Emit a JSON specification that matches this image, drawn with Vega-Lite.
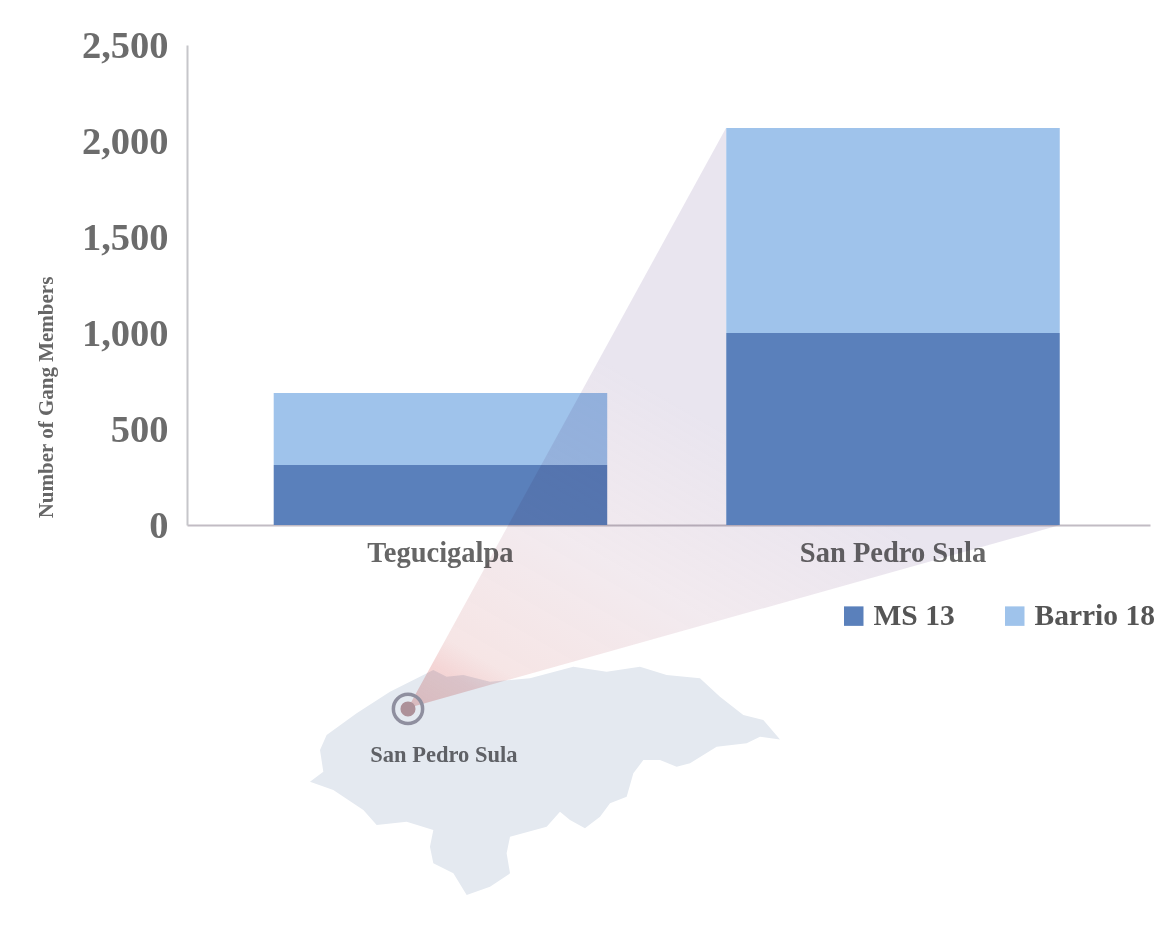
{"$schema":"https://vega.github.io/schema/vega-lite/v6.json","width":963,"height":480,"autosize":"none","padding":{"left":187,"top":45,"right":10,"bottom":405},"background":"white","config":{"view":{"stroke":null},"font":"Liberation Serif"},"layer":[
{"data":{"values":[{"type":"Feature","properties":{"name":"Honduras"},"geometry":{"type":"Polygon","coordinates":[[[-89.4,14.879],[-89.215,15.018],[-89.261,15.319],[-89.169,15.528],[-88.752,15.829],[-88.289,16.129],[-87.687,16.43],[-87.502,16.338],[-87.271,16.361],[-86.9,16.268],[-86.345,16.315],[-85.743,16.477],[-85.28,16.407],[-84.817,16.477],[-84.447,16.361],[-83.984,16.315],[-83.706,16.06],[-83.382,15.805],[-83.104,15.736],[-82.872,15.467],[-83.15,15.504],[-83.335,15.412],[-83.752,15.366],[-84.122,15.134],[-84.308,15.088],[-84.539,15.18],[-84.77,15.18],[-84.909,14.995],[-85.002,14.671],[-85.233,14.579],[-85.372,14.393],[-85.581,14.231],[-85.789,14.347],[-85.928,14.463],[-86.113,14.254],[-86.622,14.116],[-86.669,13.884],[-86.622,13.606],[-86.9,13.421],[-87.224,13.305],[-87.409,13.606],[-87.687,13.745],[-87.734,13.977],[-87.687,14.208],[-88.058,14.324],[-88.474,14.278],[-88.659,14.486],[-89.076,14.764],[-89.4,14.879]]]}}]},
"projection":{"type":"identity","reflectY":true,"scale":72,"translate":[6559.8,1808]},
"mark":{"type":"geoshape","clip":false,"fill":"#e4e9f0","stroke":null},"encoding":{}},
{"data":{"values":[{"city":"Tegucigalpa","gang":"MS 13","members":312,"rank":1},{"city":"Tegucigalpa","gang":"Barrio 18","members":376,"rank":2},{"city":"San Pedro Sula","gang":"MS 13","members":1000,"rank":1},{"city":"San Pedro Sula","gang":"Barrio 18","members":1068,"rank":2}]},
"mark":{"type":"bar"},
"encoding":{
"x":{"field":"city","type":"nominal","sort":["Tegucigalpa","San Pedro Sula"],"scale":{"paddingInner":0.263,"paddingOuter":0.1955,"align":0.49},"axis":{"title":null,"labelAngle":0,"labelLimit":400,"labelFont":"Liberation Serif","labelFontWeight":"bold","labelFontSize":28.5,"labelColor":"#666666","labelPadding":13,"ticks":false,"domainColor":"#c2bcc4","domainWidth":2}},
"y":{"field":"members","type":"quantitative","stack":"zero","scale":{"domain":[0,2500],"nice":false},"axis":{"title":"Number of Gang Members","titleFont":"Liberation Serif","titleFontSize":21,"titleFontWeight":"bold","titleColor":"#666666","titleX":-131,"titleY":352,"values":[0,500,1000,1500,2000,2500],"format":",.0f","grid":false,"ticks":false,"labelFont":"Liberation Serif","labelFontWeight":"bold","labelFontSize":38.5,"labelColor":"#6c6c6c","labelPadding":19,"domainColor":"#c6c6ca","domainWidth":2}},
"order":{"field":"rank","type":"quantitative"},
"color":{"field":"gang","type":"nominal","sort":["MS 13","Barrio 18"],"scale":{"domain":["MS 13","Barrio 18"],"range":["#5a80bb","#9fc3eb"]},"legend":{"title":null,"orient":"none","legendX":652,"legendY":556,"direction":"horizontal","symbolType":"square","symbolSize":380,"symbolStrokeWidth":0,"labelFont":"Liberation Serif","labelFontWeight":"bold","labelFontSize":29.5,"labelColor":"#555555","labelOffset":5,"columnPadding":45}}}},
{"data":{"values":[{"type":"Feature","properties":{"name":"funnel"},"geometry":{"type":"Polygon","coordinates":[[[-88.039,15.903],[-83.622,23.958],[-83.622,18.444],[-78.983,18.444],[-88.039,15.903]]]}}]},
"projection":{"type":"identity","reflectY":true,"scale":72,"translate":[6559.8,1808]},
"mark":{"type":"geoshape","clip":false,"stroke":null,"blend":"multiply","fill":{"gradient":"linear","x1":0,"y1":1,"x2":0.45,"y2":0.3,"stops":[{"offset":0,"color":"rgba(225,130,125,0.42)"},{"offset":0.1,"color":"rgba(225,140,140,0.36)"},{"offset":0.16,"color":"rgba(225,170,170,0.3)"},{"offset":0.45,"color":"rgba(215,190,205,0.32)"},{"offset":0.8,"color":"rgba(200,190,215,0.4)"},{"offset":1,"color":"rgba(200,190,215,0.4)"}]}},"encoding":{}},
{"data":{"values":[{"name":"San Pedro Sula","lon":-88.039,"lat":15.89}]},
"projection":{"type":"identity","reflectY":true,"scale":72,"translate":[6559.8,1808]},
"mark":{"type":"circle","clip":false,"size":227,"color":"#ad9199","opacity":1},"encoding":{"longitude":{"field":"lon","type":"quantitative"},"latitude":{"field":"lat","type":"quantitative"}}},
{"data":{"values":[{"name":"San Pedro Sula","lon":-88.039,"lat":15.89}]},
"projection":{"type":"identity","reflectY":true,"scale":72,"translate":[6559.8,1808]},
"mark":{"type":"point","clip":false,"shape":"circle","size":855,"filled":false,"stroke":"#8f8f9f","strokeWidth":3.5,"opacity":1},"encoding":{"longitude":{"field":"lon","type":"quantitative"},"latitude":{"field":"lat","type":"quantitative"}}},
{"data":{"values":[{"name":"San Pedro Sula","lon":-87.54,"lat":15.25}]},
"projection":{"type":"identity","reflectY":true,"scale":72,"translate":[6559.8,1808]},
"mark":{"type":"text","clip":false,"font":"Liberation Serif","fontWeight":"bold","fontSize":22.5,"color":"#5f6166","align":"center","baseline":"middle"},"encoding":{"longitude":{"field":"lon","type":"quantitative"},"latitude":{"field":"lat","type":"quantitative"},"text":{"field":"name","type":"nominal"}}}
]}
